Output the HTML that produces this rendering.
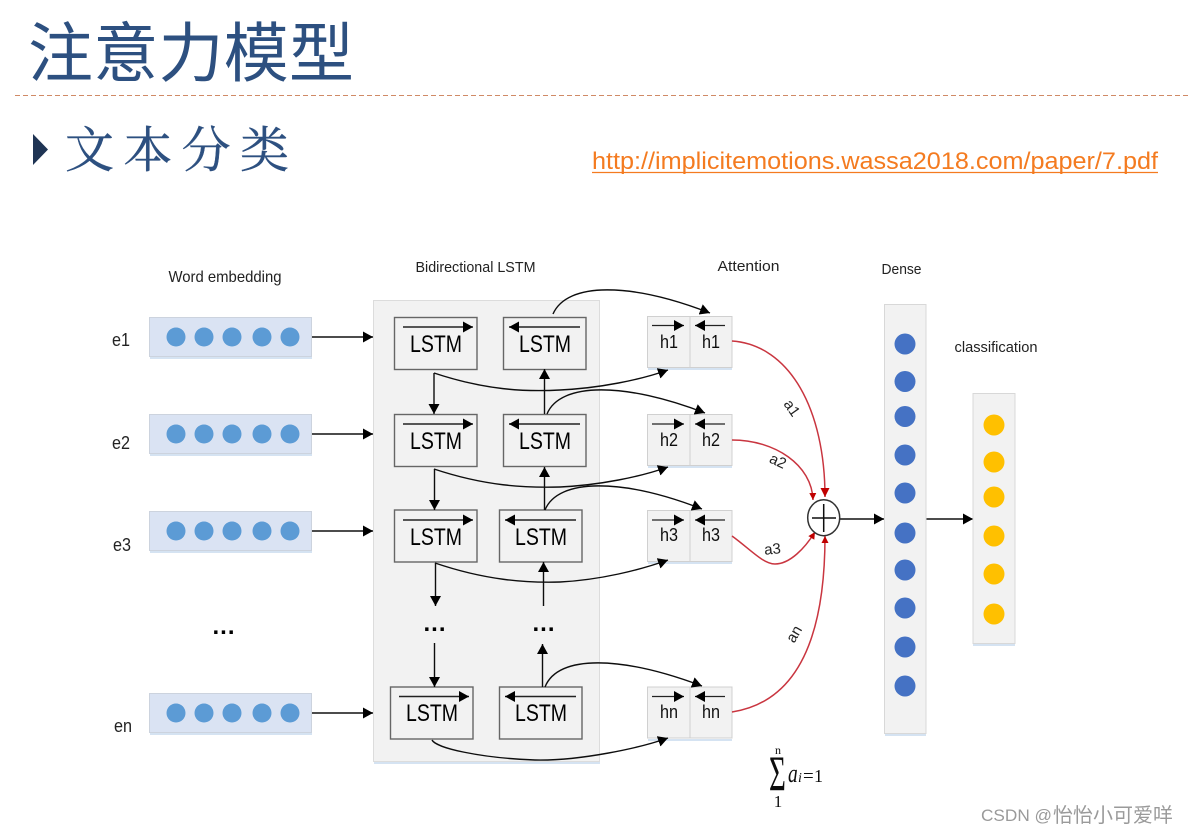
<!DOCTYPE html>
<html><head><meta charset="utf-8"><style>
html,body{margin:0;padding:0;background:#fff;width:1188px;height:834px;overflow:hidden}
svg{display:block}
</style></head><body>
<svg xmlns="http://www.w3.org/2000/svg" width="1188" height="834" viewBox="0 0 1188 834">
<defs>
<filter id="b" x="-5%" y="-5%" width="110%" height="110%"><feGaussianBlur stdDeviation="0.35"/></filter>
<marker id="k" markerUnits="userSpaceOnUse" markerWidth="13" markerHeight="13" refX="10" refY="5.5" orient="auto"><path d="M0,0L10,5.5L0,11z" fill="#000"/></marker>
<marker id="r" markerUnits="userSpaceOnUse" markerWidth="11" markerHeight="11" refX="9" refY="4.5" orient="auto"><path d="M0,0L9,4.5L0,9z" fill="#c00000"/></marker>
<marker id="s" markerUnits="userSpaceOnUse" markerWidth="10" markerHeight="10" refX="7" refY="3.5" orient="auto"><path d="M0,0L7,3.5L0,7z" fill="#c00000"/></marker>
</defs>

<text x="28" y="76" font-family="'Liberation Sans','Noto Sans CJK SC',sans-serif" font-size="65" font-weight="400" fill="#2d5080" textLength="326" lengthAdjust="spacing">注意力模型</text>
<line x1="15" y1="95.5" x2="1188" y2="95.5" stroke="#d08a66" stroke-width="1" stroke-dasharray="5,3"/>
<path d="M33,134L48,149.5L33,165z" fill="#1f3454"/>
<text x="65" y="167" font-family="'Liberation Serif','Noto Serif CJK SC',serif" font-size="49" fill="#2d5080" stroke="#2d5080" stroke-width="0.4" textLength="224" lengthAdjust="spacing">文本分类</text>
<text x="592" y="169" font-family="'Liberation Sans',sans-serif" font-size="24" fill="#f47b20" textLength="566" lengthAdjust="spacingAndGlyphs">http://implicitemotions.wassa2018.com/paper/7.pdf</text>
<line x1="592" y1="172.5" x2="1158" y2="172.5" stroke="#f47b20" stroke-width="1.2"/>

<g filter="url(#b)">
<rect x="373.5" y="300.5" width="226" height="461" fill="#f2f2f2" stroke="#dcdcdc"/>
<line x1="374" y1="763" x2="600" y2="763" stroke="#d5e3f2" stroke-width="2"/>

<g fill="#dae3f3" stroke="#ccd3de">
<rect x="149.5" y="317.5" width="162" height="39"/>
<rect x="149.5" y="414.5" width="162" height="39"/>
<rect x="149.5" y="511.5" width="162" height="39"/>
<rect x="149.5" y="693.5" width="162" height="39"/>
</g>
<g stroke="#d5e3f2" stroke-width="2">
<line x1="150" y1="358" x2="312" y2="358"/>
<line x1="150" y1="455" x2="312" y2="455"/>
<line x1="150" y1="552" x2="312" y2="552"/>
<line x1="150" y1="734" x2="312" y2="734"/>
</g>
<g fill="#5b9bd5">
<circle cx="176" cy="337" r="9.5"/><circle cx="204" cy="337" r="9.5"/><circle cx="232" cy="337" r="9.5"/><circle cx="262" cy="337" r="9.5"/><circle cx="290" cy="337" r="9.5"/>
<circle cx="176" cy="434" r="9.5"/><circle cx="204" cy="434" r="9.5"/><circle cx="232" cy="434" r="9.5"/><circle cx="262" cy="434" r="9.5"/><circle cx="290" cy="434" r="9.5"/>
<circle cx="176" cy="531" r="9.5"/><circle cx="204" cy="531" r="9.5"/><circle cx="232" cy="531" r="9.5"/><circle cx="262" cy="531" r="9.5"/><circle cx="290" cy="531" r="9.5"/>
<circle cx="176" cy="713" r="9.5"/><circle cx="204" cy="713" r="9.5"/><circle cx="232" cy="713" r="9.5"/><circle cx="262" cy="713" r="9.5"/><circle cx="290" cy="713" r="9.5"/>
</g>

<g fill="none" stroke="#111" stroke-width="1.4">
<line x1="312" y1="337" x2="373" y2="337" marker-end="url(#k)"/>
<line x1="312" y1="434" x2="373" y2="434" marker-end="url(#k)"/>
<line x1="312" y1="531" x2="373" y2="531" marker-end="url(#k)"/>
<line x1="312" y1="713" x2="373" y2="713" marker-end="url(#k)"/>
</g>

<g fill="#f2f2f2" stroke="#666" stroke-width="1.4">
<rect x="394.5" y="317.5" width="82.5" height="52"/>
<rect x="503.5" y="317.5" width="82.5" height="52"/>
<rect x="394.5" y="414.5" width="82.5" height="52"/>
<rect x="503.5" y="414.5" width="82.5" height="52"/>
<rect x="394.5" y="510" width="82.5" height="52"/>
<rect x="499.5" y="510" width="82.5" height="52"/>
<rect x="390.5" y="687" width="82.5" height="52"/>
<rect x="499.5" y="687" width="82.5" height="52"/>
</g>

<g fill="none" stroke="#222" stroke-width="1.4">
<line x1="403" y1="327" x2="473" y2="327" marker-end="url(#k)"/>
<line x1="580" y1="327" x2="509" y2="327" marker-end="url(#k)"/>
<line x1="403" y1="424" x2="473" y2="424" marker-end="url(#k)"/>
<line x1="580" y1="424" x2="509" y2="424" marker-end="url(#k)"/>
<line x1="403" y1="520" x2="473" y2="520" marker-end="url(#k)"/>
<line x1="576" y1="520" x2="505" y2="520" marker-end="url(#k)"/>
<line x1="399" y1="696.5" x2="469" y2="696.5" marker-end="url(#k)"/>
<line x1="576" y1="696.5" x2="505" y2="696.5" marker-end="url(#k)"/>
</g>
<g font-family="'Liberation Sans',sans-serif" font-size="24" fill="#000">
<text x="410" y="352" textLength="52" lengthAdjust="spacingAndGlyphs">LSTM</text><text x="519" y="352" textLength="52" lengthAdjust="spacingAndGlyphs">LSTM</text>
<text x="410" y="449" textLength="52" lengthAdjust="spacingAndGlyphs">LSTM</text><text x="519" y="449" textLength="52" lengthAdjust="spacingAndGlyphs">LSTM</text>
<text x="410" y="545" textLength="52" lengthAdjust="spacingAndGlyphs">LSTM</text><text x="515" y="545" textLength="52" lengthAdjust="spacingAndGlyphs">LSTM</text>
<text x="406" y="721" textLength="52" lengthAdjust="spacingAndGlyphs">LSTM</text><text x="515" y="721" textLength="52" lengthAdjust="spacingAndGlyphs">LSTM</text>
</g>

<g fill="#f2f2f2" stroke="#d0d0d0">
<rect x="647.5" y="316.5" width="42.5" height="51"/><rect x="690" y="316.5" width="42" height="51"/>
<rect x="647.5" y="414.5" width="42.5" height="51"/><rect x="690" y="414.5" width="42" height="51"/>
<rect x="647.5" y="510.5" width="42.5" height="51"/><rect x="690" y="510.5" width="42" height="51"/>
<rect x="647.5" y="687" width="42.5" height="51"/><rect x="690" y="687" width="42" height="51"/>
</g>
<g stroke="#d5e3f2" stroke-width="2">
<line x1="648" y1="369" x2="732" y2="369"/><line x1="648" y1="467" x2="732" y2="467"/>
<line x1="648" y1="563" x2="732" y2="563"/><line x1="648" y1="740" x2="732" y2="740"/>
</g>
<g fill="none" stroke="#222" stroke-width="1.3">
<line x1="652" y1="325.5" x2="684" y2="325.5" marker-end="url(#k)"/><line x1="725" y1="325.5" x2="695" y2="325.5" marker-end="url(#k)"/>
<line x1="652" y1="424" x2="684" y2="424" marker-end="url(#k)"/><line x1="725" y1="424" x2="695" y2="424" marker-end="url(#k)"/>
<line x1="652" y1="520" x2="684" y2="520" marker-end="url(#k)"/><line x1="725" y1="520" x2="695" y2="520" marker-end="url(#k)"/>
<line x1="652" y1="696.5" x2="684" y2="696.5" marker-end="url(#k)"/><line x1="725" y1="696.5" x2="695" y2="696.5" marker-end="url(#k)"/>
</g>
<g font-family="'Liberation Sans',sans-serif" font-size="18" fill="#111">
<text x="660" y="348" textLength="18" lengthAdjust="spacingAndGlyphs">h1</text><text x="702" y="348" textLength="18" lengthAdjust="spacingAndGlyphs">h1</text>
<text x="660" y="446" textLength="18" lengthAdjust="spacingAndGlyphs">h2</text><text x="702" y="446" textLength="18" lengthAdjust="spacingAndGlyphs">h2</text>
<text x="660" y="541" textLength="18" lengthAdjust="spacingAndGlyphs">h3</text><text x="702" y="541" textLength="18" lengthAdjust="spacingAndGlyphs">h3</text>
<text x="660" y="718" textLength="18" lengthAdjust="spacingAndGlyphs">hn</text><text x="702" y="718" textLength="18" lengthAdjust="spacingAndGlyphs">hn</text>
</g>

<g fill="none" stroke="#111" stroke-width="1.4">
<line x1="434" y1="373" x2="434" y2="414" marker-end="url(#k)"/>
<line x1="544.5" y1="414" x2="544.5" y2="369" marker-end="url(#k)"/>
<line x1="434.5" y1="469" x2="434.5" y2="510" marker-end="url(#k)"/>
<line x1="544.5" y1="510" x2="544.5" y2="467" marker-end="url(#k)"/>
<line x1="435.5" y1="563" x2="435.5" y2="606" marker-end="url(#k)"/>
<line x1="543.5" y1="606" x2="543.5" y2="562" marker-end="url(#k)"/>
<line x1="434.5" y1="643" x2="434.5" y2="687" marker-end="url(#k)"/>
<line x1="542.5" y1="687" x2="542.5" y2="644" marker-end="url(#k)"/>
<path d="M553,314C567,282 630,282 710,313" marker-end="url(#k)"/>
<path d="M547,414C560,382 625,382 705,413" marker-end="url(#k)"/>
<path d="M545,510C558,478 622,478 702,509" marker-end="url(#k)"/>
<path d="M545,687C558,654 622,656 702,686" marker-end="url(#k)"/>
<path d="M434,373C485,390 525,392 560,390C600,388 640,380 668,370" marker-end="url(#k)"/>
<path d="M434,469C485,486 525,488 560,487C600,485 640,477 668,467" marker-end="url(#k)"/>
<path d="M435,563C485,580 525,583 560,582C600,580 640,570 668,560" marker-end="url(#k)"/>
<path d="M432,740C436,748 480,758 535,760C580,761 640,748 668,738" marker-end="url(#k)"/>
<line x1="840" y1="519" x2="884" y2="519" marker-end="url(#k)"/>
<line x1="926" y1="519" x2="973" y2="519" marker-end="url(#k)"/>
</g>

<g fill="none" stroke="#c9363f" stroke-width="1.5">
<path d="M732,341C790,345 825,410 825,497" marker-end="url(#r)"/>
<path d="M732,440C775,440 812,465 813,500" marker-end="url(#s)"/>
<path d="M732,536C750,549 763,564 775,564C790,564 805,548 815,532" marker-end="url(#s)"/>
<path d="M732,712C790,703 825,650 825,536" marker-end="url(#s)"/>
</g>

<ellipse cx="823.7" cy="517.7" rx="16" ry="18" fill="#fff" stroke="#333" stroke-width="1.5"/>
<path d="M812,518H836M823.7,504V532" stroke="#111" stroke-width="1.5" fill="none"/>

<rect x="884.5" y="304.5" width="41.5" height="429" fill="#f2f2f2" stroke="#d8d8d8"/>
<line x1="885" y1="735" x2="926" y2="735" stroke="#d5e3f2" stroke-width="2"/>
<g fill="#4472c4">
<circle cx="905" cy="344" r="10.5"/><circle cx="905" cy="381.5" r="10.5"/><circle cx="905" cy="416.5" r="10.5"/><circle cx="905" cy="455" r="10.5"/><circle cx="905" cy="493" r="10.5"/><circle cx="905" cy="533" r="10.5"/><circle cx="905" cy="570" r="10.5"/><circle cx="905" cy="608" r="10.5"/><circle cx="905" cy="647" r="10.5"/><circle cx="905" cy="686" r="10.5"/>
</g>
<rect x="973" y="393.5" width="42" height="250" fill="#f2f2f2" stroke="#d8d8d8"/>
<line x1="973" y1="645" x2="1015" y2="645" stroke="#d5e3f2" stroke-width="2"/>
<g fill="#ffc000">
<circle cx="994" cy="425" r="10.5"/><circle cx="994" cy="462" r="10.5"/><circle cx="994" cy="497" r="10.5"/><circle cx="994" cy="536" r="10.5"/><circle cx="994" cy="574" r="10.5"/><circle cx="994" cy="614" r="10.5"/>
</g>

<g font-family="'Liberation Sans',sans-serif" fill="#222" text-anchor="middle">
<text x="225" y="282" font-size="16" textLength="113" lengthAdjust="spacingAndGlyphs">Word embedding</text>
<text x="475.5" y="272" font-size="15" textLength="120" lengthAdjust="spacingAndGlyphs">Bidirectional LSTM</text>
<text x="748.5" y="271" font-size="15" textLength="62" lengthAdjust="spacingAndGlyphs">Attention</text>
<text x="901.5" y="274" font-size="15" textLength="40" lengthAdjust="spacingAndGlyphs">Dense</text>
<text x="996" y="352" font-size="15" textLength="83" lengthAdjust="spacingAndGlyphs">classification</text>
<text x="121" y="346" font-size="18" textLength="18" lengthAdjust="spacingAndGlyphs">e1</text>
<text x="121" y="449" font-size="18" textLength="18" lengthAdjust="spacingAndGlyphs">e2</text>
<text x="122" y="551" font-size="18" textLength="18" lengthAdjust="spacingAndGlyphs">e3</text>
<text x="123" y="732" font-size="18" textLength="18" lengthAdjust="spacingAndGlyphs">en</text>
<text transform="translate(792,408) rotate(55)" y="5" font-size="15">a1</text>
<text transform="translate(778,461) rotate(25)" y="5" font-size="15">a2</text>
<text transform="translate(772.5,549) rotate(-5)" y="5" font-size="15">a3</text>
<text transform="translate(794,634) rotate(-60)" y="5" font-size="15">an</text>
</g>
<g font-family="'Liberation Sans',sans-serif" font-weight="700" fill="#000" text-anchor="middle" font-size="24">
<text x="224" y="634" letter-spacing="1">...</text>
<text x="435" y="631" letter-spacing="1">...</text>
<text x="544" y="631" letter-spacing="1">...</text>
</g>
<g font-family="'Liberation Serif',serif" fill="#111">
<text x="778" y="754" font-size="12" text-anchor="middle">n</text>
<text transform="translate(769,790) scale(0.58,1)" font-size="50">Σ</text>
<text x="778" y="807" font-size="17" text-anchor="middle">1</text>
<text transform="translate(788,782) scale(0.75,1)" font-size="26" font-style="italic">a</text>
<text x="798" y="782" font-size="14" font-style="italic">i</text>
<text x="803" y="782" font-size="19">=</text>
<text x="814" y="782" font-size="18">1</text>
</g>
</g>
<text x="981" y="821" font-family="'Liberation Sans',sans-serif" font-size="17" fill="#9a9a9a" textLength="71" lengthAdjust="spacingAndGlyphs">CSDN @</text>
<text x="1053" y="822" font-family="'Noto Sans CJK SC',sans-serif" font-size="20" fill="#9a9a9a">怡怡小可爱咩</text>
</svg>
</body></html>
